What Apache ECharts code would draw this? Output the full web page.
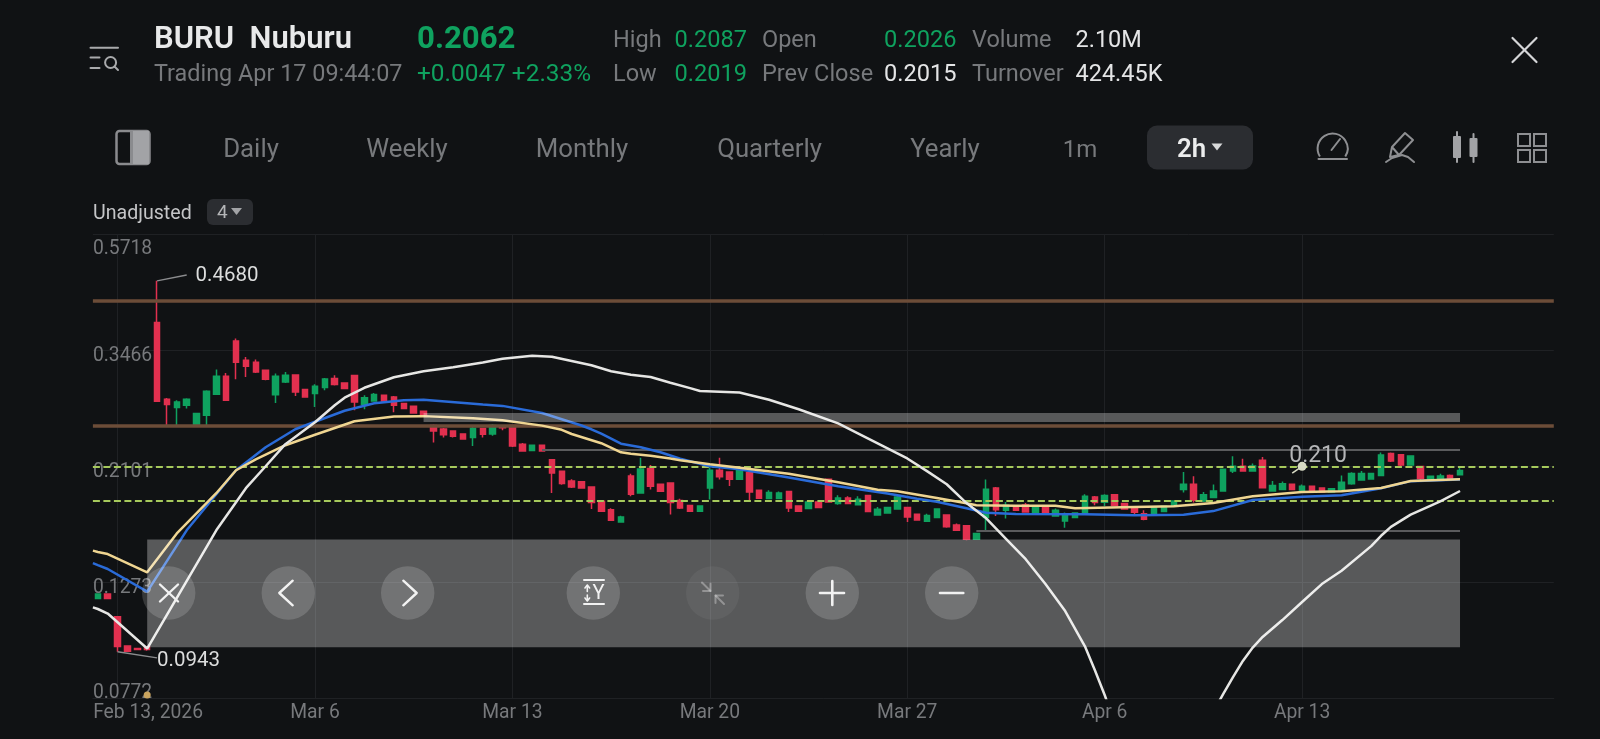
<!DOCTYPE html>
<html>
<head>
<meta charset="utf-8">
<title>BURU Nuburu 2h chart</title>
<style>
  html, body { margin: 0; padding: 0; background: #101214; }
  #chart { width: 1600px; height: 739px; }
</style>
<script src="https://cdn.jsdelivr.net/npm/echarts@6/dist/echarts.min.js"></script>
</head>
<body>
<div id="chart"></div>
<script>
// Two-hour bars, left to right.
const opens = [
  .1186,.1210,.1097,.0966,.0956,.0963,.3910,.2806,.2708,.2735,
  .2519,.2619,.2868,.3100,.3610,.3321,.3293,.3181,.2860,.3024,
  .3117,.2927,.2877,.2951,.3069,.3011,.3109,.2747,.2786,.2855,
  .2835,.2755,.2723,.2665,.2505,.2467,.2447,.2416,.2379,.2472,
  .2415,.2498,.2505,.2311,.2248,.2301,.2162,.2056,.1972,.1964,
  .1921,.1806,.1742,.1652,.2015,.1872,.2080,.1944,.1955,.1812,
  .1773,.1730,.1912,.2065,.2050,.1986,.2045,.1894,.1828,.1828,
  .1884,.1770,.1750,.1800,.1986,.1788,.1832,.1780,.1852,.1702,
  .1717,.1747,.1758,.1708,.1657,.1683,.1702,.1630,.1625,.1533,
  .1684,.1912,.1737,.1770,.1777,.1723,.1762,.1695,.1659,.1683,
  .1708,.1840,.1798,.1857,.1788,.1758,.1712,.1708,.1728,.1767,
  .1900,.1944,.1808,.1836,.1888,.2059,.2101,.2059,.2156,.1888,
  .1900,.1944,.1880,.1927,.1912,.1880,.1886,.1947,.1980,.1989,
  .2019,.2219,.2209,.2113,.2098,.1984,.1984,.2019,.2026
];
const closes = [
  .1210,.1186,.0964,.0945,.0952,.0952,.2782,.2743,.2774,.2806,
  .2639,.2906,.3100,.2794,.3293,.3237,.3158,.3059,.3100,.3113,
  .2897,.2835,.2969,.3063,.2991,.2939,.2774,.2826,.2864,.2786,
  .2735,.2696,.2645,.2616,.2447,.2408,.2392,.2364,.2476,.2412,
  .2505,.2482,.2294,.2244,.2301,.2244,.2041,.1950,.1921,.1912,
  .1796,.1730,.1664,.1688,.1862,.2077,.1927,.1886,.1796,.1755,
  .1730,.1770,.2065,.2007,.1986,.2065,.1880,.1830,.1875,.1872,
  .1755,.1730,.1800,.1758,.1800,.1832,.1788,.1822,.1728,.1745,
  .1758,.1840,.1688,.1666,.1698,.1747,.1618,.1593,.1533,.1571,
  .1902,.1742,.1775,.1737,.1725,.1762,.1723,.1737,.1708,.1717,
  .1846,.1796,.1852,.1773,.1747,.1723,.1671,.1758,.1767,.1808,
  .1944,.1814,.1857,.1888,.2073,.2101,.2059,.2104,.1915,.1934,
  .1947,.1900,.1927,.1884,.1880,.1907,.1961,.2037,.2037,.2037,
  .2205,.2150,.2113,.2195,.1993,.2012,.2015,.1984,.2062
];
const lows = [
  .1186,.1186,.0943,.0945,.0952,.0947,.2782,.2498,.2498,.2696,
  .2490,.2509,.2868,.2794,.3059,.3091,.3145,.3046,.2762,.3011,
  .2847,.2835,.2715,.2918,.2978,.2939,.2676,.2688,.2776,.2786,
  .2653,.2696,.2645,.2616,.2327,.2379,.2379,.2364,.2294,.2379,
  .2398,.2454,.2284,.2238,.2248,.2244,.1872,.1939,.1912,.1912,
  .1747,.1730,.1659,.1652,.1846,.1872,.1900,.1886,.1705,.1747,
  .1730,.1730,.1820,.1984,.1930,.1986,.1808,.1830,.1828,.1828,
  .1725,.1730,.1750,.1758,.1800,.1780,.1788,.1780,.1728,.1702,
  .1717,.1747,.1652,.1666,.1657,.1683,.1611,.1593,.1526,.1533,
  .1593,.1695,.1676,.1737,.1725,.1723,.1723,.1695,.1611,.1678,
  .1708,.1775,.1770,.1773,.1747,.1708,.1664,.1708,.1728,.1767,
  .1875,.1796,.1800,.1836,.1888,.2041,.2059,.2059,.1915,.1888,
  .1900,.1900,.1880,.1884,.1880,.1880,.1886,.1939,.1980,.1989,
  .2019,.2140,.2095,.2113,.1972,.1984,.1984,.1984,.2019
];
const highs = [
  .1210,.1210,.1097,.0966,.0956,.0963,.4680,.2822,.2794,.2818,
  .2639,.2918,.3191,.3145,.3648,.3369,.3331,.3181,.3137,.3158,
  .3125,.2927,.2995,.3075,.3113,.3011,.3117,.2855,.2884,.2855,
  .2846,.2755,.2723,.2665,.2515,.2478,.2447,.2416,.2490,.2478,
  .2519,.2498,.2505,.2324,.2301,.2301,.2162,.2056,.1986,.1964,
  .1921,.1806,.1752,.1697,.2033,.2180,.2113,.1944,.1961,.1825,
  .1773,.1770,.2089,.2180,.2050,.2075,.2045,.1894,.1894,.1884,
  .1884,.1770,.1808,.1800,.1993,.1854,.1846,.1846,.1852,.1762,
  .1758,.1854,.1758,.1708,.1712,.1747,.1702,.1641,.1625,.1571,
  .1984,.1921,.1800,.1770,.1792,.1762,.1762,.1750,.1720,.1720,
  .1862,.1848,.1862,.1862,.1788,.1758,.1737,.1758,.1767,.1808,
  .2050,.2012,.1880,.1941,.2080,.2193,.2171,.2125,.2186,.1972,
  .1967,.1944,.1941,.1927,.1912,.1907,.2018,.2048,.2059,.2037,
  .2229,.2229,.2215,.2195,.2098,.2012,.2033,.2028,.2087
];

// Moving averages, as [bar position, price] readings; they begin at the plot's left edge.
const blueLine = [
  [-0.5,.1383],[0,.1371],[1,.1348],[5,.1222],[9,.1593],[12,.1862],[14,.2065],[17,.2281],[20,.2465],
  [22,.2546],[25,.2670],[28,.2758],[31,.2794],[33,.2800],[39,.2743],[41,.2727],[45,.2645],
  [47,.2574],[49,.2505],[50,.2465],[51,.2418],[53,.2316],[55,.2281],[57,.2232],[59,.2170],
  [62,.2101],[65,.2074],[70,.2001],[75,.1927],[80,.1868],[83,.1825],[85,.1802],[88,.1752],
  [90,.1718],[93,.1709],[100,.1708],[105,.1700],[110,.1704],[113,.1731],[117,.1816],[122,.1842],
  [126,.1854],[130,.1911],[133,.1970],[138,.1984]
];
const yellowLine = [
  [-0.5,.1459],[0,.1451],[1,.1438],[5,.1329],[8,.1572],[12,.1870],[14,.2065],[16,.2165],[19,.2301],
  [22,.2407],[26,.2552],[30,.2606],[33,.2609],[38,.2585],[41,.2563],[45,.2504],[47,.2459],
  [48,.2415],[51,.2321],[53,.2231],[54,.2218],[56,.2198],[58,.2173],[59,.2156],[62,.2119],
  [65,.2087],[70,.2034],[75,.1961],[79,.1898],[81,.1886],[85,.1832],[88,.1790],[89,.1775],
  [93,.1771],[97,.1771],[99,.1752],[105,.1762],[109,.1767],[113,.1792],[117,.1846],[122,.1880],
  [126,.1886],[130,.1912],[133,.1972],[138,.1986]
];
const whiteLine = [
  [-0.5,.1142],[0,.1134],[1,.1112],[5,.0956],[12,.1593],[15,.1911],[17,.2101],[19,.2311],[22,.2541],
  [24,.2735],[25,.2825],[27,.2949],[30,.3086],[33,.3167],[36,.3222],[39,.3289],[41,.3343],
  [44,.3386],[46,.3372],[50,.3250],[52,.3167],[54,.3119],[56,.3089],[58,.3014],[60,.2944],
  [61,.2909],[65,.2889],[68,.2800],[71,.2688],[75,.2529],[79,.2320],[81,.2222],[82,.2173],
  [84,.2057],[86,.1944],[88,.1792],[90,.1678],[92,.1536],[94,.1406],[96,.1263],[98,.1124],
  [100,.0965],[101,.0871],[102,.0782],[103,.0694],[113,.0727],[114,.0785],[115,.0845],[116,.0906],
  [117,.0960],[118,.1005],[120,.1081],[122,.1169],[124,.1263],[126,.1338],[129,.1488],[130,.1556],
  [131,.1617],[133,.1705],[136,.1806],[138,.1888]
];

// Price axis and date axis.
const priceTicks = [0.0772, 0.1273, 0.2101, 0.3466, 0.5718];
const barCount = 148;
const dateTickBars = [2, 22, 42, 62, 82, 102, 122];
const dateTickLabels = ['Feb 13, 2026', 'Mar 6', 'Mar 13', 'Mar 20', 'Mar 27', 'Apr 6', 'Apr 13'];
const categories = Array.from({ length: barCount }, (_, i) => {
  const t = dateTickBars.indexOf(i);
  return t < 0 ? String(i) : dateTickLabels[t];
});

// Drawn price levels.
const resistanceLevels = [0.4291, 0.2508];
const dashedLevels = [0.2100, 0.1814];
const upperZone = { fromBar: 33, toBar: 138, top: 0.2645, bottom: 0.2545 };
const lowerZone = { fromBar: 5, toBar: 138, top: 0.1531, bottom: 0.0961 };
const thinLevels = [
  { fromBar: 45, toBar: 138, price: 0.2258 },
  { fromBar: 89, toBar: 138, price: 0.1588 }
];
const highBar = 6, highPrice = 0.4680;
const lowBar = 2, lowPrice = 0.0943;
const noteBar = 122, notePrice = 0.210, noteText = '0.210';

const FONT = 'Roboto, "Noto Sans", sans-serif';
const GREEN = '#0fa25f', RED = '#e2304f';
const GREY = '#77797c';

// Screen furniture above and over the plot.
const chrome = [];
function text(x, y, str, fill, size, weight, align) {
  chrome.push({
    type: 'text', z: 50, silent: true,
    style: { x, y, text: str, fill, textAlign: align || 'left', textVerticalAlign: 'middle',
      font: (weight || 400) + ' ' + size + 'px ' + FONT }
  });
}
function seg(x1, y1, x2, y2, stroke, lineWidth, z) {
  chrome.push({ type: 'line', z: z || 50, silent: true, shape: { x1, y1, x2, y2 },
    style: { stroke, lineWidth: lineWidth || 2, lineCap: 'round' } });
}
function poly(points, stroke, lineWidth) {
  chrome.push({ type: 'polyline', z: 50, silent: true, shape: { points },
    style: { stroke, lineWidth: lineWidth || 2, fill: null, lineCap: 'round', lineJoin: 'round' } });
}
function rect(x, y, width, height, r, fill, stroke, lineWidth) {
  chrome.push({ type: 'rect', z: 50, silent: true, shape: { x, y, width, height, r },
    style: { fill: fill || null, stroke: stroke || null, lineWidth: lineWidth || 0 } });
}
function disc(cx, cy, r, fill, stroke, lineWidth) {
  chrome.push({ type: 'circle', z: 49, silent: true, shape: { cx, cy, r },
    style: { fill: fill || null, stroke: stroke || null, lineWidth: lineWidth || 0 } });
}
function tri(cx, cy, w, h, fill) {
  chrome.push({ type: 'polygon', z: 50, silent: true,
    shape: { points: [[cx - w / 2, cy - h / 2], [cx + w / 2, cy - h / 2], [cx, cy + h / 2]] },
    style: { fill } });
}

// Quote header
text(154, 40.5, 'BURU  Nuburu', '#e8e9ea', 31, 600);
text(417, 40.5, '0.2062', GREEN, 31.2, 700);
text(154, 75, 'Trading Apr 17 09:44:07', GREY, 23.4);
text(417, 75, '+0.0047 +2.33%', GREEN, 24.4);
text(613, 41, 'High', GREY, 23.5);
text(674.5, 41, '0.2087', GREEN, 23.6);
text(762, 41, 'Open', GREY, 23.5);
text(884, 41, '0.2026', GREEN, 23.6);
text(972, 41, 'Volume', GREY, 23.5);
text(1075.5, 41, '2.10M', '#e4e5e6', 23.5);
text(613, 75, 'Low', GREY, 23.5);
text(674.5, 75, '0.2019', GREEN, 23.6);
text(762, 75, 'Prev Close', GREY, 23.5);
text(884, 75, '0.2015', '#e4e5e6', 23.6);
text(972, 75, 'Turnover', GREY, 23.5);
text(1075.5, 75, '424.45K', '#e4e5e6', 23.5);

// List/search glyph
seg(90.5, 47.7, 118, 47.7, '#a9aaac', 2);
seg(90.5, 57.5, 99.5, 57.5, '#a9aaac', 2);
seg(90.5, 68, 99.5, 68, '#a9aaac', 2);
disc(110.6, 62.5, 5.5, null, '#a9aaac', 2);
seg(114.5, 66.5, 118, 70, '#a9aaac', 2);
// Close
seg(1512.5, 38, 1536.5, 62, '#d5d6d8', 2.2);
seg(1536.5, 38, 1512.5, 62, '#d5d6d8', 2.2);

// Period tabs
text(251, 151, 'Daily', GREY, 25.8, 400, 'center');
text(407, 151, 'Weekly', GREY, 25.8, 400, 'center');
text(582, 151, 'Monthly', GREY, 25.8, 400, 'center');
text(769.5, 151, 'Quarterly', GREY, 25.8, 400, 'center');
text(945, 151, 'Yearly', GREY, 25.8, 400, 'center');
text(1080, 151, '1m', GREY, 24, 400, 'center');
rect(1147, 125.5, 106, 44, 10, '#2b2d31');
text(1177, 151, '2h', '#eceded', 25.8, 600);
tri(1217, 147, 11, 7, '#d8d9da');

// Split-view glyph
rect(116.5, 131, 33, 33, 3, null, '#8a8b8e', 2.5);
rect(133, 131, 16, 33, 0, '#a2a3a6');
rect(130, 131, 3, 33, 0, '#8a8b8e');
// Gauge glyph
chrome.push({ type: 'arc', z: 50, silent: true,
  shape: { cx: 1332.6, cy: 148.5, r: 15, startAngle: Math.PI * 0.82, endAngle: Math.PI * 0.18 },
  style: { stroke: '#8e8f92', lineWidth: 2, fill: null } });
seg(1318.5, 159, 1347, 159, '#8e8f92', 2);
seg(1331.5, 150, 1340, 139, '#8e8f92', 2);
// Pen glyph
poly([[1392, 147], [1405, 133], [1413, 140], [1399, 155], [1390, 157], [1392, 147], [1399, 155]], '#8e8f92', 2);
poly([[1386, 162], [1392, 158], [1402, 155], [1408, 157], [1414, 162]], '#8e8f92', 2);
// Candle glyph
seg(1457, 132, 1457, 162, '#a2a3a6', 2);
rect(1453, 136, 8, 22, 1, '#a2a3a6');
seg(1473.5, 134, 1473.5, 162, '#a2a3a6', 2);
rect(1469.5, 138, 8, 19, 1, '#a2a3a6');
// Layout glyph
rect(1518, 134, 12, 12, 0, null, '#8e8f92', 2);
rect(1534, 134, 12, 12, 0, null, '#8e8f92', 2);
rect(1518, 150, 12, 12, 0, null, '#8e8f92', 2);
rect(1534, 150, 12, 12, 0, null, '#8e8f92', 2);

// Rehabilitation selector
text(93, 214, 'Unadjusted', '#c4c5c7', 19.6);
rect(207, 199, 46, 26, 6, '#2b2d31');
text(217, 213.5, '4', '#b5b6b8', 19);
tri(236.5, 211.5, 11, 7, '#a2a3a6');

// Floating chart controls
const controlY = 593, controlR = 26.7;
[168.7, 288.3, 407.7, 593.3, 832.3, 951.7].forEach(cx => disc(cx, controlY, controlR, 'rgba(255,255,255,0.16)'));
disc(712.7, controlY, controlR, 'rgba(255,255,255,0.05)');
seg(160, 584.5, 178, 601.5, '#f2f2f2', 2.4);
seg(178, 584.5, 160, 601.5, '#f2f2f2', 2.4);
poly([[292.7, 580.7], [279.3, 593], [292.7, 605.3]], '#f2f2f2', 2.4);
poly([[403.3, 580.7], [416.7, 593], [403.3, 605.3]], '#f2f2f2', 2.4);
seg(584, 580, 604, 580, '#f2f2f2', 2);
seg(584, 604, 604, 604, '#f2f2f2', 2);
seg(587.3, 586, 587.3, 591.5, '#f2f2f2', 1.6);
seg(587.3, 595, 587.3, 600, '#f2f2f2', 1.6);
poly([[585, 588], [587.3, 585], [589.6, 588]], '#f2f2f2', 1.6);
poly([[585, 598], [587.3, 601], [589.6, 598]], '#f2f2f2', 1.6);
text(598.5, 594, 'Y', '#f2f2f2', 20, 400, 'center');
const dim = 'rgba(255,255,255,0.32)';
seg(702, 582.5, 710.5, 591, dim, 2);
poly([[703, 591], [710.5, 591], [710.5, 583.5]], dim, 2);
seg(724, 604, 715.5, 595.5, dim, 2);
poly([[715.5, 603], [715.5, 595.5], [723, 595.5]], dim, 2);
seg(820, 593, 844, 593, '#f2f2f2', 2.6);
seg(832.3, 581, 832.3, 605, '#f2f2f2', 2.6);
seg(940, 593, 963.3, 593, '#f2f2f2', 2.6);

const candles = opens.map((o, i) => [o, closes[i], lows[i], highs[i]]);

function levelLine(price, style) {
  return { yAxis: price, lineStyle: style };
}
const calloutLabel = value => ({
  show: true, position: 'end', formatter: '{a|' + value.toFixed(4) + '}', distance: 0,
  rich: { a: { color: '#dcdddd', fontSize: 20.5, fontFamily: FONT, padding: [6, 0, 0, 0] } }
});
const overlayLines = [
  ...resistanceLevels.map(p => levelLine(p, { color: '#6c4d38', width: 3.5, type: 'solid' })),
  ...dashedLevels.map(p => levelLine(p, { color: '#a6c95c', width: 2, type: [7, 3.5] })),
  ...thinLevels.map(l => [
    { coord: [l.fromBar, l.price], lineStyle: { color: '#5a5b5d', width: 2, type: 'solid' } },
    { coord: [l.toBar, l.price] }
  ]),
  // Leaders to the period high and low
  [
    { coord: [highBar, highPrice], lineStyle: { color: '#8b8c8e', width: 1.4, type: 'solid' },
      label: { ...calloutLabel(highPrice), distance: 9 } },
    { coord: [9, 0.4800] }
  ],
  [
    { coord: [lowBar, lowPrice], lineStyle: { color: '#8b8c8e', width: 1.4, type: 'solid' },
      label: calloutLabel(lowPrice) },
    { coord: [6, 0.0918] }
  ],
  // Tail of the price note
  [
    { coord: [noteBar, notePrice], lineStyle: { color: '#d7dac4', width: 1.6, type: 'solid' } },
    { coord: [noteBar - 1, 0.2040] }
  ]
];

const maLine = (name, data, color) => ({
  type: 'line', name, z: 4, xAxisIndex: 1, data, showSymbol: false,
  lineStyle: { color, width: 2.5 }
});

const chart = echarts.init(document.getElementById('chart'), null, { renderer: 'canvas' });
chart.setOption({
  backgroundColor: '#101214',
  animation: false,
  textStyle: { fontFamily: FONT },
  graphic: { elements: chrome },
  grid: { left: 92.9, width: 1460.9, top: 234.5, bottom: 41 },
  xAxis: [
    {
      type: 'category',
      data: categories.map((name, i) => i === dateTickBars[0]
        ? { value: name, textStyle: { padding: [0, 0, 0, 61] } }
        : name),
      boundaryGap: true,
      axisLine: { lineStyle: { color: '#1f2124', width: 1 } },
      axisTick: { show: false },
      axisLabel: {
        color: GREY, fontSize: 19.3, fontFamily: FONT, margin: 6,
        interval: i => dateTickBars.includes(i),
        formatter: v => v
      },
      splitLine: {
        show: true, alignWithLabel: true,
        interval: i => dateTickBars.includes(i),
        lineStyle: { color: '#1f2124', width: 1 }
      }
    },
    // Continuous bar positions for the moving averages, sharing the same span as the bars.
    { type: 'value', min: -0.5, max: barCount - 0.5, show: false, splitLine: { show: false } }
  ],
  yAxis: {
    type: 'log',
    logBase: 10,
    min: priceTicks[0],
    max: priceTicks[priceTicks.length - 1],
    position: 'left',
    axisLine: { show: false },
    axisTick: { show: false, customValues: priceTicks },
    axisLabel: {
      inside: true, margin: 0,
      customValues: priceTicks,
      // The outermost labels sit inside the plot; the others hang just under their line.
      formatter: v => {
        const s = Number(v).toFixed(4);
        const tag = s === priceTicks[0].toFixed(4) ? 'bot'
          : s === priceTicks[priceTicks.length - 1].toFixed(4) ? 'top' : 'mid';
        return '{' + tag + '|' + s + '}';
      },
      rich: {
        top: { color: GREY, fontSize: 19.3, fontFamily: FONT, padding: [29, 0, 0, 0] },
        mid: { color: GREY, fontSize: 19.3, fontFamily: FONT, padding: [11, 0, 0, 0] },
        bot: { color: GREY, fontSize: 19.3, fontFamily: FONT, padding: [0, 0, 10, 0] }
      }
    },
    splitLine: { show: true, lineStyle: { color: '#1f2124', width: 1 } }
  },
  series: [
    {
      type: 'candlestick',
      name: 'BURU',
      z: 2,
      barWidth: 6,
      data: candles,
      itemStyle: { color: GREEN, color0: RED, borderColor: GREEN, borderColor0: RED, borderWidth: 1.5 },
      markLine: {
        z: 3, silent: true, symbol: 'none', precision: 4, animation: false,
        label: { show: false },
        data: overlayLines
      },
      markArea: {
        z: 6, silent: true, animation: false,
        itemStyle: { color: 'rgba(255,255,255,0.3)' },
        data: [
          [{ coord: [upperZone.fromBar, upperZone.top] }, { coord: [upperZone.toBar, upperZone.bottom] }],
          [{ coord: [lowerZone.fromBar, lowerZone.top] }, { coord: [lowerZone.toBar, lowerZone.bottom] }]
        ]
      },
      markPoint: {
        z: 7, silent: true, animation: false,
        data: [
          { coord: [noteBar, notePrice], symbol: 'circle', symbolSize: 9, itemStyle: { color: '#d7dac4' },
            label: { show: true, formatter: noteText, position: 'top', offset: [16, 11], color: '#b5b6b8', fontSize: 23, fontFamily: FONT } },
          { coord: [5, 0.0782], symbol: 'circle', symbolSize: 7, itemStyle: { color: '#c9a45e' }, label: { show: false } }
        ]
      }
    },
    maLine('Blue', blueLine, '#2a6bd8'),
    maLine('Yellow', yellowLine, '#efd591'),
    maLine('White', whiteLine, '#e6e6e4')
  ]
});
</script>
</body>
</html>
